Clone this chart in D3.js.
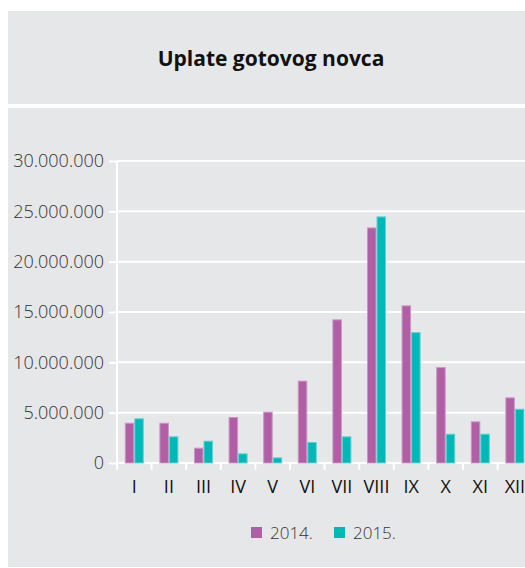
<!DOCTYPE html>
<html>
<head>
<meta charset="utf-8">
<script src="https://cdn.jsdelivr.net/npm/d3@7"></script>
<style>
  html, body { margin: 0; padding: 0; background: #ffffff; }
  svg { display: block; }
  text { font-family: "Open Sans", "Noto Sans", sans-serif; }
</style>
</head>
<body>
<div id="chart"></div>
<script>
// Monthly cash deposits, 2014 vs 2015
const months = ["I", "II", "III", "IV", "V", "VI", "VII", "VIII", "IX", "X", "XI", "XII"];
const seriesNames = ["2014.", "2015."];
const values2014 = [4000000, 4000000, 1520000, 4570000, 5100000, 8180000, 14270000, 23400000, 15660000, 9530000, 4140000, 6520000];
const values2015 = [4440000, 2650000, 2220000, 960000, 560000, 2090000, 2650000, 24500000, 13000000, 2910000, 2910000, 5390000];
const yTicks = [0, 5000000, 10000000, 15000000, 20000000, 25000000, 30000000];
const seriesColors = ["#b05fa5", "#00b8b8"];
const seriesStrokes = ["#cf94c6", "#63d3cf"];

const W = 525, H = 568;
const panelColor = "#e6e7e8";

const svg = d3.select("#chart").append("svg")
  .attr("width", W).attr("height", H);

// background panels
svg.append("rect").attr("x", 8).attr("y", 11).attr("width", W - 8).attr("height", 93).attr("fill", panelColor);
svg.append("rect").attr("x", 8).attr("y", 108).attr("width", W - 8).attr("height", 459).attr("fill", panelColor);

// title
svg.append("text")
  .attr("x", 271).attr("y", 66)
  .attr("text-anchor", "middle")
  .attr("font-size", 21).attr("font-weight", 700)
  .attr("fill", "#111")
  .text("Uplate gotovog novca");

const plotLeft = 117, plotBottom = 463, plotTop = 161;
const step = 34.6;

const x0 = d3.scaleBand()
  .domain(months)
  .range([plotLeft, plotLeft + step * months.length])
  .paddingInner(0.45)
  .paddingOuter(0.225);

const x1 = d3.scaleBand()
  .domain(seriesNames)
  .range([0, x0.bandwidth()]);

const y = d3.scaleLinear().domain([0, 30000000]).range([plotBottom, plotTop]);

const locale = d3.formatLocale({ decimal: ",", thousands: ".", grouping: [3], currency: ["", ""] });
const fmt = locale.format(",d");

// horizontal gridlines
svg.append("g").selectAll("line")
  .data(yTicks)
  .join("line")
  .attr("x1", plotLeft).attr("x2", W)
  .attr("y1", d => y(d)).attr("y2", d => y(d))
  .attr("stroke", "#ffffff").attr("stroke-width", 2);

// y axis
const yAxis = d3.axisLeft(y).tickValues(yTicks).tickFormat(fmt).tickSize(8).tickPadding(5);
const gy = svg.append("g").attr("transform", `translate(${plotLeft},0)`).call(yAxis);
gy.select(".domain").remove();
gy.selectAll(".tick line").attr("stroke", "#ffffff").attr("stroke-width", 2);
gy.selectAll(".tick text")
  .attr("font-family", "'Open Sans', 'Noto Sans', sans-serif")
  .attr("font-size", 18).attr("font-weight", 300).attr("fill", "#333");
svg.append("line")
  .attr("x1", plotLeft).attr("x2", plotLeft)
  .attr("y1", plotTop).attr("y2", plotBottom + 7)
  .attr("stroke", "#ffffff").attr("stroke-width", 2);

// category boundary ticks
const boundaries = d3.range(months.length + 1).map(i => plotLeft + i * x0.step());
svg.append("g").selectAll("line")
  .data(boundaries)
  .join("line")
  .attr("x1", d => d).attr("x2", d => d)
  .attr("y1", plotBottom).attr("y2", plotBottom + 7)
  .attr("stroke", "#ffffff").attr("stroke-width", 2);

// bars
const rows = months.map((m, i) => ({ month: m, vals: [values2014[i], values2015[i]] }));
const groups = svg.append("g").selectAll("g")
  .data(rows)
  .join("g")
  .attr("transform", d => `translate(${x0(d.month)},0)`);

groups.selectAll("rect")
  .data(d => d.vals.map((v, k) => ({ key: seriesNames[k], k, v })))
  .join("rect")
  .attr("x", d => x1(d.key) + 0.5)
  .attr("y", d => y(d.v) + 0.5)
  .attr("width", x1.bandwidth() - 1)
  .attr("height", d => y(0) - y(d.v) - 0.5)
  .attr("fill", d => seriesColors[d.k])
  .attr("stroke", d => seriesStrokes[d.k])
  .attr("stroke-width", 1);

// x labels
const xAxis = d3.axisBottom(x0).tickSize(0).tickPadding(17);
const gx = svg.append("g").attr("transform", `translate(0,${plotBottom})`).call(xAxis);
gx.select(".domain").remove();
gx.selectAll(".tick text")
  .attr("font-family", "'Open Sans', 'Noto Sans', sans-serif")
  .attr("font-size", 18).attr("font-weight", 400).attr("fill", "#111");

// legend
const legendItems = [
  { name: seriesNames[0], color: seriesColors[0], x: 251 },
  { name: seriesNames[1], color: seriesColors[1], x: 334 }
];
const lg = svg.append("g").selectAll("g").data(legendItems).join("g")
  .attr("transform", d => `translate(${d.x},527)`);
lg.append("rect").attr("width", 11).attr("height", 11).attr("fill", d => d.color);
lg.append("text").attr("x", 19).attr("y", 12)
  .attr("font-size", 17).attr("font-weight", 300).attr("fill", "#333")
  .text(d => d.name);
</script>
</body>
</html>
